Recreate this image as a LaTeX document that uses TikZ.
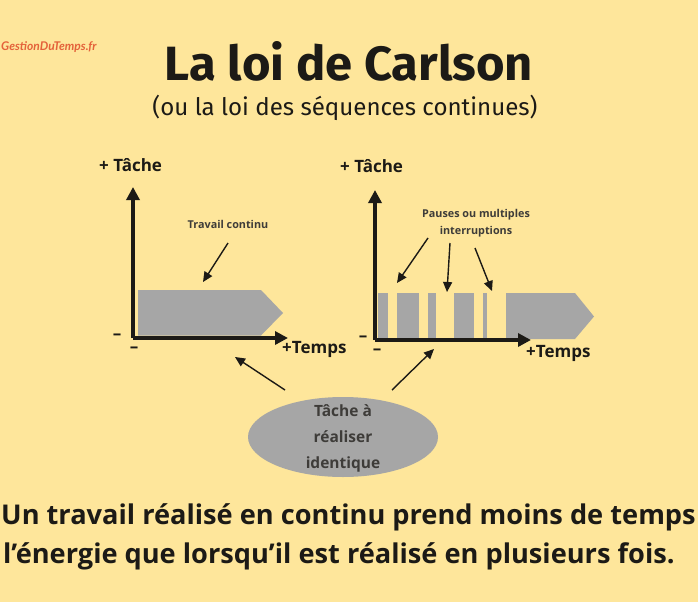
\documentclass[tikz,border=0pt]{standalone}
\usepackage{fontspec}
\setmainfont{Open Sans}
\newfontfamily\titlefont{Fira Sans}
\newfontfamily\logofont{Lato}
\usetikzlibrary{arrows.meta,shapes.geometric}
\definecolor{bg}{RGB}{254,230,155}
\definecolor{barfill}{RGB}{166,166,166}
\definecolor{ink}{RGB}{28,26,22}
\definecolor{logoc}{RGB}{228,98,58}
\tikzset{
  axis/.style={line width=3.6pt,ink,-{Triangle[length=13pt,width=13pt]}},
  pointer/.style={line width=1.4pt,ink,-{Triangle[length=10pt,width=9pt]}},
  bar/.style={fill=barfill,draw=none},
  axlabel/.style={font=\fontsize{17}{17}\selectfont\bfseries,text=ink,inner sep=0pt},
  minus/.style={font=\fontsize{17}{17}\selectfont\bfseries,text=ink,inner sep=0pt},
  small/.style={font=\fontsize{10.8}{17}\selectfont\bfseries,text=ink!85,inner sep=0pt,align=center},
  bottomtext/.style={font=\fontsize{27.2}{27.2}\selectfont\bfseries,text=ink,inner sep=0pt},
}
\begin{document}
\begin{tikzpicture}[x=1pt,y=-1pt]
\useasboundingbox (0,0) rectangle (698,602);
\clip (0,0) rectangle (698,602);
\fill[bg] (0,0) rectangle (698,602);

% logo and titles
\node[anchor=base west,inner sep=0pt,text=logoc,font=\logofont\fontsize{12}{12}\selectfont\bfseries\itshape] (logo) at (1,51) {GestionDuTemps.fr};
\node[anchor=base,inner sep=0pt,text=ink] (title) at (349,80) {\resizebox{368pt}{39pt}{\titlefont\bfseries La loi de Carlson}};
\node[anchor=center,inner sep=0pt,text=ink] (subtitle) at (345,107.5) {\resizebox{385pt}{!}{\titlefont (ou la loi des séquences continues)}};

% ---------- left chart ----------
\coordinate (o1) at (133,338);
\coordinate (y1) at (133,187);
\coordinate (x1) at (288,338);
\fill[bar] (138,290) -- (261,290) -- (283,313) -- (261,335.5) -- (138,335.5) -- cycle;
\draw[axis] (o1) -- (y1);
\draw[axis] (o1) -- (x1);
\node[axlabel,anchor=west] (t1) at (99,165) {+ Tâche};
\node[axlabel,anchor=west] (tp1) at (282,349) {+Temps};
\node[minus] (m1a) at (117,337) {–};
\node[minus] (m1b) at (134,350) {–};
\node[small] (tc) at (228,224) {Travail continu};
\coordinate (tcs) at (228,243);
\coordinate (tce) at (203,282);
\draw[pointer] (tcs) -- (tce);

% ---------- right chart ----------
\coordinate (o2) at (375,340);
\coordinate (y2) at (375,190);
\coordinate (x2) at (531,340);
\fill[bar] (378,293) rectangle (388,338);
\fill[bar] (397,293) rectangle (419,338);
\fill[bar] (428,293) rectangle (436,338);
\fill[bar] (454,293) rectangle (474,338);
\fill[bar] (483,293) rectangle (487,338);
\fill[bar] (506,293) -- (575,293) -- (594,316.5) -- (575,339) -- (506,339) -- cycle;
\draw[axis] (o2) -- (y2);
\draw[axis] (o2) -- (x2);
\node[axlabel,anchor=west] (t2) at (340,166) {+ Tâche};
\node[axlabel,anchor=west] (tp2) at (526,353) {+Temps};
\node[minus] (m2a) at (363,339) {–};
\node[minus] (m2b) at (377,352) {–};
\node[small] (pm) at (476,223) {Pauses ou multiples\\interruptions};
\coordinate (p1s) at (428,238);
\coordinate (p1e) at (397,283);
\coordinate (p2s) at (450,243);
\coordinate (p2e) at (447,292);
\coordinate (p3s) at (475,248);
\coordinate (p3e) at (492,291);
\draw[pointer] (p1s) -- (p1e);
\draw[pointer] (p2s) -- (p2e);
\draw[pointer] (p3s) -- (p3e);

% ---------- task ellipse ----------
\node[ellipse,fill=barfill,draw=none,minimum width=190pt,minimum height=80pt,inner sep=0pt] (task) at (343,437) {};
\node[align=center,inner sep=0pt,text=ink!85,font=\fontsize{15.5}{26}\selectfont\bfseries] (tasktext) at (343,438.5) {Tâche à\\réaliser\\identique};
\coordinate (a1s) at (285,390);
\coordinate (a1e) at (235,357);
\coordinate (a2s) at (392,390);
\coordinate (a2e) at (434,349);
\draw[pointer] (a1s) -- (a1e);
\draw[pointer] (a2s) -- (a2e);

% ---------- bottom text ----------
\node[bottomtext,anchor=base west] (l1) at (1,524) {Un travail réalisé en continu prend moins de temps};
\node[bottomtext,anchor=base west] (l2) at (3,563) {l’énergie que lorsqu’il est réalisé en plusieurs fois.};
\end{tikzpicture}
\end{document}
